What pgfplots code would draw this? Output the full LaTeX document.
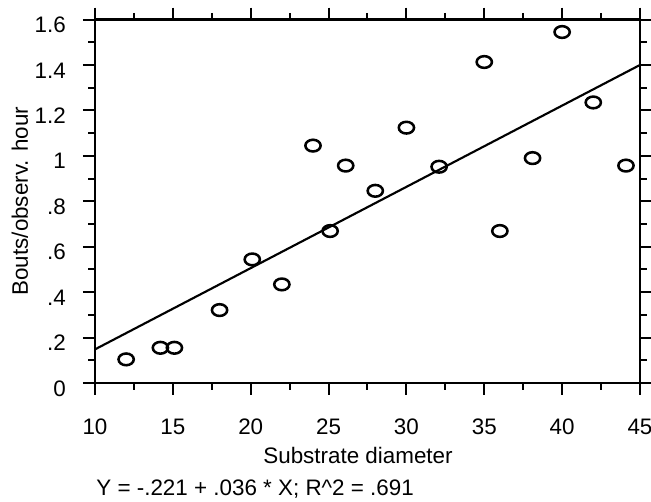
\documentclass[border=0pt]{standalone}
\usepackage{pgfplots}
\pgfplotsset{compat=1.18}
\usepackage{fontspec}
\setmainfont{Liberation Sans}
\newcommand\chartfont{\fontsize{16.8}{20}\selectfont}

\begin{document}
\begin{tikzpicture}
\begin{axis}[
  at={(0,0)}, anchor=south west,
  scale only axis, width=408.75pt, height=272.6pt,
  xmin=10, xmax=45, ymin=0, ymax=1.6,
  xtick={10,15,20,25,30,35,40,45},
  xticklabels={10,15,20,25,30,35,40,45},
  ytick={0,0.2,0.4,0.6,0.8,1,1.2,1.4,1.6},
  yticklabels={0,.2,.4,.6,.8,1,1.2,1.4,1.6},
  minor x tick num=1, minor y tick num=1,
  tick align=outside, major tick length=9pt, minor tick length=5pt,
  axis line style={line width=2pt},
  every tick/.style={black, line width=1.5pt},
  xticklabel style={font=\chartfont, inner sep=0pt, anchor=base, yshift=-30pt},
  yticklabel style={font=\chartfont, inner sep=0pt, anchor=east, xshift=-12.75pt, yshift=-4pt},
  clip=false,
]
% fitted line
\addplot[black, line width=1.6pt, no marks] coordinates {(10,0.148) (45,1.400)};
% observations
\addplot[only marks, mark=o, mark size=4.4pt,
  mark options={xscale=1.3, line width=1.9pt, black}] coordinates {
  (12,0.104) (14.2,0.155) (15.1,0.155) (18,0.321) (20.1,0.544) (22,0.434)
  (24,1.045) (25.1,0.669) (26.1,0.957) (28,0.846) (30,1.124) (32.1,0.952)
  (35,1.413) (36,0.669) (38.1,0.990) (40,1.545) (42,1.235) (44.1,0.957)
};
\node[font=\chartfont, anchor=base, yshift=-60.75pt] at (rel axis cs:0.4826,0) {Substrate diameter};
\node[font=\chartfont, xshift=-50.25pt, rotate=90, anchor=base] at (rel axis cs:0,0.5) {Bouts/observ. hour};
\node[font=\chartfont, anchor=base west, xshift=-2.5pt, yshift=-84.75pt] at (rel axis cs:0,0) {Y = -.221 + .036 * X; R\textasciicircum2 = .691};
\end{axis}
\pgfresetboundingbox
\useasboundingbox (-71.25pt,-89.25pt) rectangle (417pt,287.25pt);
\end{tikzpicture}
\end{document}
